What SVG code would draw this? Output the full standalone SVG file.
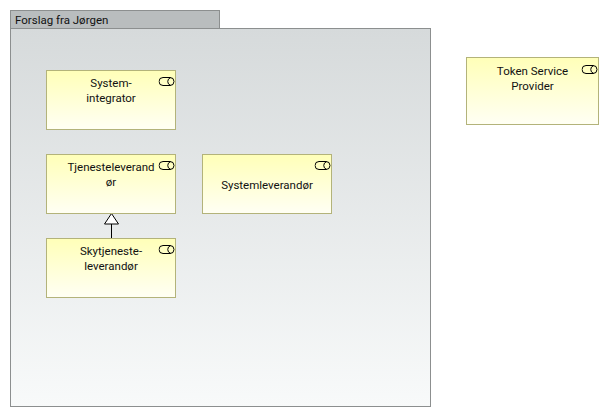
<svg xmlns="http://www.w3.org/2000/svg" width="609" height="417" viewBox="0 0 609 417">
<style>
.n{fill:url(#ny);stroke:#b3b37a;stroke-width:1}
.t{font-family:Roboto,"Noto Sans",sans-serif;font-size:11.500px;fill:#111;text-anchor:middle}
.i{fill:none;stroke:#000;stroke-width:1}
.g{stroke:#8c8f8f;stroke-width:1}
</style>
<defs>
<linearGradient id="ny" x1="0" y1="0" x2="0" y2="1"><stop offset="0" stop-color="#ffffb8"/><stop offset="1" stop-color="#fffff4"/></linearGradient>
<linearGradient id="ng" x1="0" y1="0" x2="0" y2="1"><stop offset="0" stop-color="#d6dadb"/><stop offset="1" stop-color="#f8fafa"/></linearGradient>
<symbol id="ic" width="18" height="10" viewBox="0 0 18 10"><rect class="i" x="0.500" y="0.500" width="15" height="8" rx="4"/><path class="i" d="M12 0.700a4 4 0 0 0 0 7.600"/></symbol>
</defs>
<rect width="609" height="417" fill="#fff"/>
<g id="group-forslag">
<rect class="g" x="10.500" y="10.500" width="209" height="18" fill="#b9bdbe"/>
<rect class="g" x="10.500" y="28.500" width="420" height="378" fill="url(#ng)"/>
<text x="15" y="24" class="t" style="text-anchor:start">Forslag fra Jørgen</text>
</g>
<g id="connectors">
<path d="M111.500 238V224" stroke="#000" fill="none"/>
<path d="M111.500 213.500L118.500 224H104.500Z" fill="#fff" stroke="#000"/>
</g>
<g id="node-systemintegrator">
<rect class="n" x="46.500" y="70.500" width="129" height="59"/>
<use href="#ic" x="158.500" y="77"/>
<text class="t" x="111" y="87">System-</text><text class="t" x="111" y="102">integrator</text>
</g>
<g id="node-tjenesteleverandor">
<rect class="n" x="46.500" y="154.500" width="129" height="59"/>
<use href="#ic" x="158.500" y="161"/>
<text class="t" x="111" y="171">Tjenesteleverand</text><text class="t" x="111" y="186">ør</text>
</g>
<g id="node-skytjenesteleverandor">
<rect class="n" x="46.500" y="238.500" width="129" height="59"/>
<use href="#ic" x="158.500" y="245"/>
<text class="t" x="111" y="255">Skytjeneste-</text><text class="t" x="111" y="270">leverandør</text>
</g>
<g id="node-systemleverandor">
<rect class="n" x="202.500" y="154.500" width="129" height="59"/>
<use href="#ic" x="314.500" y="161"/>
<text class="t" x="267" y="189">Systemleverandør</text>
</g>
<g id="node-tokenserviceprovider">
<rect class="n" x="466.500" y="57.500" width="132" height="67"/>
<use href="#ic" x="581.500" y="65"/>
<text class="t" x="532.500" y="75">Token Service</text><text class="t" x="532.500" y="90">Provider</text>
</g>
</svg>
